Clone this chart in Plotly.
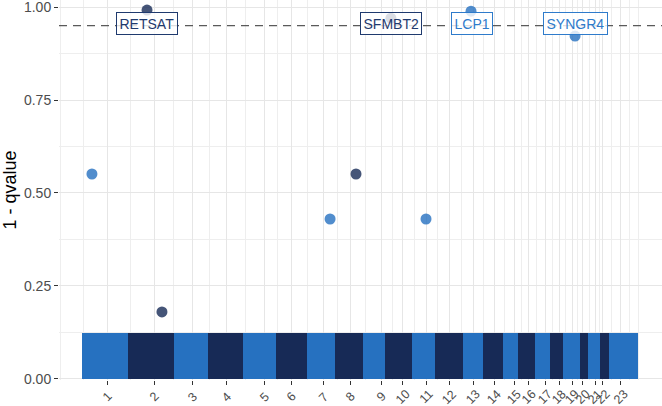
import plotly.graph_objects as go

# ---- data ----
chroms = [str(i) for i in range(1, 24)]
chrom_centers = [267, 528, 744, 933, 1144, 1289, 1472, 1617, 1789, 1911, 2039, 2169,
                 2300, 2417, 2528, 2611, 2700, 2778, 2850, 2911, 2978, 3022, 3122]
chrom_edges = [128, 383, 639, 828, 1022, 1206, 1378, 1533, 1689, 1811, 1961, 2089,
               2244, 2356, 2467, 2550, 2644, 2728, 2800, 2894, 2939, 3006, 3056, 3217]
bulk_max = 0.124  # upper envelope of the dense non-significant points

hit_x = [183, 489, 572, 1506, 1650, 1844, 2039, 2289, 2867]
hit_y = [0.551, 0.992, 0.180, 0.43, 0.551, 0.970, 0.43, 0.989, 0.922]
hit_chr = [1, 2, 2, 7, 8, 10, 11, 13, 19]
hit_gene = ["", "RETSAT", "", "", "", "SFMBT2", "", "LCP1", "SYNGR4"]
label_x = {"RETSAT": 489, "SFMBT2": 1844, "LCP1": 2292, "SYNGR4": 2869}
label_y = 0.957
threshold = 0.95

LIGHT = "#2671C0"
DARK = "#172A56"

def col(c):
    return LIGHT if c % 2 == 1 else DARK

fig = go.Figure()

# dense background clouds (one block per chromosome)
starts = chrom_edges[:-1]
ends = chrom_edges[1:]
fig.add_trace(go.Bar(
    x=[(s + e) / 2 for s, e in zip(starts, ends)],
    width=[e - s for s, e in zip(starts, ends)],
    y=[bulk_max] * len(chroms),
    base=0,
    marker=dict(color=[col(i + 1) for i in range(len(chroms))], line=dict(width=0)),
    showlegend=False, hoverinfo="skip",
))

# threshold line
fig.add_hline(y=threshold, line=dict(color="#5A5A5A", width=1.4, dash="8px,6px"))

# highlighted points
fig.add_trace(go.Scatter(
    x=hit_x, y=hit_y, mode="markers",
    marker=dict(size=11, color=[col(c) for c in hit_chr], opacity=0.8, line=dict(width=0)),
    showlegend=False, cliponaxis=False,
))

for g, c in zip(hit_gene, hit_chr):
    if not g:
        continue
    colr = "#1F3A6E" if c % 2 == 0 else "#2E7BCB"
    fig.add_annotation(
        x=label_x[g], y=label_y, text=g, showarrow=False,
        font=dict(family="Liberation Sans, Arial", size=14, color=colr),
        bgcolor="rgba(255,255,255,0.8)", bordercolor=colr, borderwidth=1, borderpad=2.5,
    )

# x tick labels: rotated 45 deg, centred under each tick
for cx, name in zip(chrom_centers, chroms):
    fig.add_annotation(
        x=cx, xref="x", y=0, yref="paper", yshift=-17, text=name, showarrow=False,
        textangle=-45, xanchor="center", yanchor="middle",
        font=dict(family="Liberation Sans, Arial", size=12.5, color="#4D4D4D"),
    )

# minor grid positions (midpoints, ggplot style)
ext = [2 * chrom_centers[0] - chrom_centers[1]] + chrom_centers + [2 * chrom_centers[-1] - chrom_centers[-2]]
minor = [ext[0]] + [(a + b) / 2 for a, b in zip(ext[:-1], ext[1:])] + [ext[-1]]

fig.update_layout(
    width=662, height=406,
    margin=dict(l=59, r=0, t=0, b=26),
    plot_bgcolor="white", paper_bgcolor="white",
    bargap=0,
    font=dict(family="Liberation Sans, Arial", color="#4D4D4D"),
    xaxis=dict(
        range=[0, 3350], tickmode="array", tickvals=chrom_centers, ticktext=[""] * len(chroms),
        ticks="outside", ticklen=4, tickcolor="#333333", showticklabels=True,
        showgrid=True, gridcolor="#E6E6E6", gridwidth=1.3,
        zeroline=False, showline=False, automargin=False,
        minor=dict(tickmode="array", tickvals=minor, showgrid=True,
                   gridcolor="#EEEEEE", gridwidth=0.8, ticks=""),
    ),
    yaxis=dict(
        range=[-0.003, 1.019], tickvals=[0, 0.25, 0.5, 0.75, 1.0],
        ticktext=["0.00", "0.25", "0.50", "0.75", "1.00"],
        ticks="outside", ticklen=4, tickcolor="#333333",
        tickfont=dict(size=14, color="#4D4D4D"), ticklabeloverflow="allow",
        showgrid=True, gridcolor="#E6E6E6", gridwidth=1.3,
        zeroline=False, showline=False, automargin=False,
        minor=dict(tickmode="array", tickvals=[0.125, 0.375, 0.625, 0.875], showgrid=True,
                   gridcolor="#EEEEEE", gridwidth=0.8, ticks=""),
        title=dict(text="1 - qvalue", font=dict(size=18, color="black"), standoff=6),
    ),
)

fig.write_html("out.html")
